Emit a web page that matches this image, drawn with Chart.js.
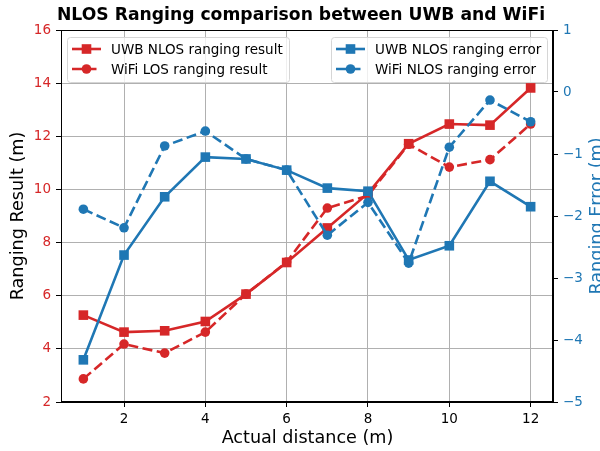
<!DOCTYPE html>
<html>
<head>
<meta charset="utf-8">
<script src="https://cdn.jsdelivr.net/npm/chart.js@4.4.0/dist/chart.umd.min.js"></script>
<style>
  html, body { margin: 0; padding: 0; background: #fff; }
  #wrap { width: 600px; height: 451px; }
</style>
</head>
<body>
<div id="wrap"><canvas id="myChart" width="600" height="451"></canvas></div>
<script>
// data
const distance = [1, 2, 3, 4, 5, 6, 7, 8, 9, 10, 11, 12];
const uwbResult = [5.27, 4.63, 4.68, 5.03, 6.06, 7.25, 8.55, 9.85, 11.72, 12.46, 12.42, 13.82];
const wifiResult = [2.87, 4.18, 3.84, 4.63, 6.06, 7.27, 9.3, 9.77, 11.7, 10.84, 11.12, 12.46];
const uwbError = [-4.32, -2.63, -1.69, -1.05, -1.08, -1.26, -1.55, -1.6, -2.71, -2.48, -1.44, -1.85];
const wifiError = [-1.89, -2.19, -0.87, -0.63, -1.08, -1.26, -2.31, -1.78, -2.76, -0.89, -0.13, -0.48];
const xTicks = [2, 4, 6, 8, 10, 12];
const leftTicks = [2, 4, 6, 8, 10, 12, 14, 16];
const rightTicks = [-5, -4, -3, -2, -1, 0, 1];

const RED = '#d62728';
const BLUE = '#1f77b4';
const FONT = 'DejaVu Sans';

function pts(ys) {
  return distance.map((x, i) => ({ x: x, y: ys[i] }));
}

function fixTicks(list) {
  return function (scale) {
    scale.ticks = list.map(v => ({ value: v }));
  };
}

function fmt(v) {
  return String(v).replace('-', '\u2212');
}

// title, axis titles, top spine and the two legend boxes
const decor = {
  id: 'decor',
  afterDraw(chart) {
    const ctx = chart.ctx;
    const a = chart.chartArea;
    ctx.save();
    ctx.strokeStyle = '#000';
    ctx.lineWidth = 1;
    ctx.strokeRect(a.left + 0.5, a.top + 0.5, a.right - a.left - 1, a.bottom - a.top - 1);

    ctx.fillStyle = '#000';
    ctx.textAlign = 'center';
    ctx.textBaseline = 'middle';
    ctx.font = 'bold 17.2px "' + FONT + '"';
    ctx.fillText('NLOS Ranging comparison between UWB and WiFi', 301, 16);

    ctx.font = '17.6px "' + FONT + '"';
    ctx.fillText('Actual distance (m)', 307.5, 438);

    ctx.save();
    ctx.translate(18, (a.top + a.bottom) / 2);
    ctx.rotate(-Math.PI / 2);
    ctx.fillText('Ranging Result (m)', 0, 0);
    ctx.restore();

    ctx.save();
    ctx.fillStyle = BLUE;
    ctx.translate(597, (a.top + a.bottom) / 2);
    ctx.rotate(-Math.PI / 2);
    ctx.fillText('Ranging Error (m)', 0, 0);
    ctx.restore();

    const ds = chart.data.datasets;
    drawLegend(ctx, 67, 37, 222, 45, [ds[0], ds[1]]);
    drawLegend(ctx, 331, 37, 216, 45, [ds[2], ds[3]]);
    ctx.restore();
  }
};

function roundRect(ctx, x, y, w, h, r) {
  ctx.beginPath();
  ctx.moveTo(x + r, y);
  ctx.arcTo(x + w, y, x + w, y + h, r);
  ctx.arcTo(x + w, y + h, x, y + h, r);
  ctx.arcTo(x, y + h, x, y, r);
  ctx.arcTo(x, y, x + w, y, r);
  ctx.closePath();
}

function drawLegend(ctx, x, y, w, h, items) {
  roundRect(ctx, x + 0.5, y + 0.5, w, h, 3);
  ctx.fillStyle = 'rgba(255,255,255,0.8)';
  ctx.fill();
  ctx.strokeStyle = '#d6d6d6';
  ctx.lineWidth = 1;
  ctx.stroke();
  items.forEach((d, i) => {
    const cy = y + 12 + i * 20;
    ctx.strokeStyle = d.borderColor;
    ctx.lineWidth = d.borderWidth;
    ctx.setLineDash(d.borderDash || []);
    ctx.beginPath();
    ctx.moveTo(x + 5, cy);
    ctx.lineTo(x + 34, cy);
    ctx.stroke();
    ctx.setLineDash([]);
    ctx.fillStyle = d.borderColor;
    if (d.pointStyle === 'rect') {
      ctx.fillRect(x + 19.5 - 4.8, cy - 4.8, 9.6, 9.6);
    } else {
      ctx.beginPath();
      ctx.arc(x + 19.5, cy, 4.8, 0, Math.PI * 2);
      ctx.fill();
    }
    ctx.fillStyle = '#000';
    ctx.textAlign = 'left';
    ctx.textBaseline = 'middle';
    ctx.font = '13.5px "' + FONT + '"';
    ctx.fillText(d.label, x + 44, cy + 1);
  });
}

function series(label, ys, color, axis, style, dashed, order) {
  return {
    label: label,
    data: pts(ys),
    yAxisID: axis,
    borderColor: color,
    backgroundColor: color,
    borderWidth: 2.6,
    borderDash: dashed ? [10, 4.5] : [],
    pointStyle: style,
    pointRadius: style === 'rect' ? 6.8 : 4.8,
    pointBorderWidth: 0,
    pointBackgroundColor: color,
    tension: 0,
    order: order
  };
}

const ctx = document.getElementById('myChart').getContext('2d');
const myChart = new Chart(ctx, {
  type: 'line',
  data: {
    datasets: [
      series('UWB NLOS ranging result', uwbResult, RED, 'y', 'rect', false, 2),
      series('WiFi LOS ranging result', wifiResult, RED, 'y', 'circle', true, 2),
      series('UWB NLOS ranging error', uwbError, BLUE, 'y2', 'rect', false, 1),
      series('WiFi NLOS ranging error', wifiError, BLUE, 'y2', 'circle', true, 1)
    ]
  },
  options: {
    responsive: false,
    animation: false,
    devicePixelRatio: 1,
    layout: { padding: { top: 30, left: 0, right: 0, bottom: 0 } },
    plugins: {
      legend: { display: false },
      title: { display: false },
      tooltip: { enabled: false }
    },
    scales: {
      x: {
        type: 'linear',
        min: 0.45,
        max: 12.55,
        afterBuildTicks: fixTicks(xTicks),
        afterFit: s => { s.height = 49; },
        grid: { color: '#b0b0b0', lineWidth: 1, tickColor: '#000', tickLength: 5 },
        border: { color: '#000', width: 1 },
        ticks: { color: '#000', padding: 4, font: { family: FONT, size: 13.5 }, maxRotation: 0, callback: v => fmt(v) }
      },
      y: {
        position: 'left',
        min: 2,
        max: 16,
        afterBuildTicks: fixTicks(leftTicks),
        afterFit: s => { s.width = 61; },
        grid: { color: '#b0b0b0', lineWidth: 1, tickColor: '#000', tickLength: 5 },
        border: { color: '#000', width: 1 },
        ticks: { color: RED, padding: 5, font: { family: FONT, size: 13.5 }, callback: v => fmt(v) }
      },
      y2: {
        position: 'right',
        min: -5,
        max: 1,
        afterBuildTicks: fixTicks(rightTicks),
        afterFit: s => { s.width = 47; },
        grid: { drawOnChartArea: false, tickColor: '#000', tickLength: 5 },
        border: { color: '#000', width: 1 },
        ticks: { color: BLUE, padding: 5, font: { family: FONT, size: 13.5 }, callback: v => fmt(v) }
      }
    }
  },
  plugins: [decor]
});
</script>
</body>
</html>
